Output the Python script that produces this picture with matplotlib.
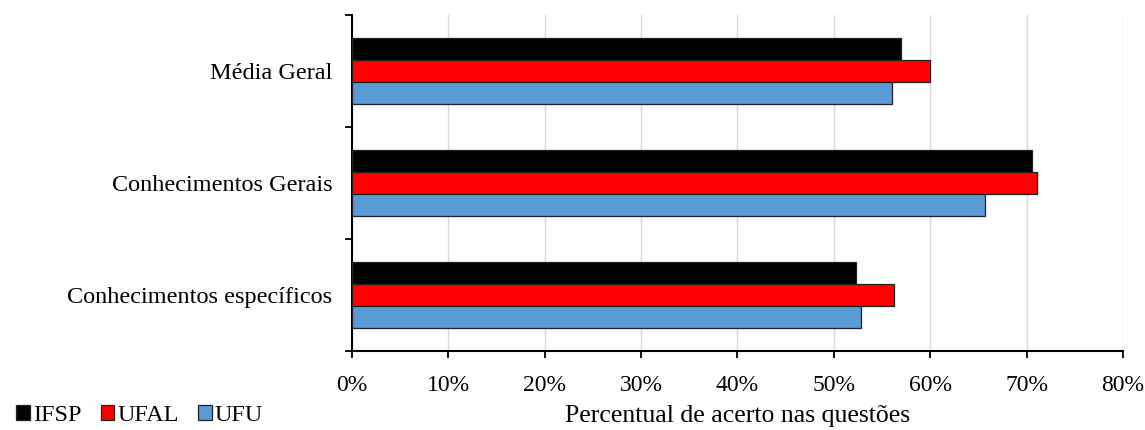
import numpy as np
import matplotlib.pyplot as plt
from matplotlib.ticker import PercentFormatter, FixedLocator
from matplotlib.patches import Patch

# Percentual médio de acerto por instituição
categorias = ['Conhecimentos específicos', 'Conhecimentos Gerais', 'Média Geral']
ifsp = [52.3, 70.6, 57.0]
ufal = [56.2, 71.1, 60.0]
ufu = [52.8, 65.7, 56.0]
instituicoes = ['IFSP', 'UFAL', 'UFU']
cores = ['#000000', '#ff0000', '#5b9bd5']

plt.rcParams['font.family'] = ['Liberation Serif', 'DejaVu Serif']

fig = plt.figure(figsize=(11.45, 4.3), dpi=100)
ax = fig.add_axes([0.3074, 0.1837, 0.6734, 0.7813])

y = np.arange(len(categorias))
h = 0.195
for serie, cor, dy in zip([ifsp, ufal, ufu], cores, [h, 0, -h]):
    ax.barh(y + dy, serie, height=h, color=cor, edgecolor='#222222',
            linewidth=0.9, zorder=3)

ax.set_xlim(0, 80)
ax.set_ylim(-0.5, 2.5)
ax.set_xticks(np.arange(0, 81, 10))
ax.xaxis.set_major_formatter(PercentFormatter(decimals=0))
ax.set_yticks(y)
ax.set_yticklabels(categorias)
ax.yaxis.set_minor_locator(FixedLocator(np.arange(-0.5, 2.6, 1)))
ax.tick_params(axis='y', which='major', length=0, pad=14, labelsize=17.5)
ax.tick_params(axis='y', which='minor', length=5, width=1.3, direction='out')
ax.tick_params(axis='x', length=5, width=1.3, direction='out', pad=12,
               labelsize=17)

ax.grid(axis='x', color='#d9d9d9', linewidth=1, zorder=0)
for s in ['top', 'right']:
    ax.spines[s].set_visible(False)
for s in ['left', 'bottom']:
    ax.spines[s].set_linewidth(1.5)

ax.set_xlabel('Percentual de acerto nas questões', fontsize=18.5, labelpad=7)

handles = [Patch(facecolor=c, edgecolor='#222222', linewidth=0.9) for c in cores]
fig.legend(handles, instituicoes, loc='lower left', bbox_to_anchor=(-0.005, -0.042),
           ncol=3, frameon=False, fontsize=17.5, handlelength=0.56,
           handleheight=0.56, handletextpad=0.12, columnspacing=0.8)

fig.savefig('out.png', dpi=100)
